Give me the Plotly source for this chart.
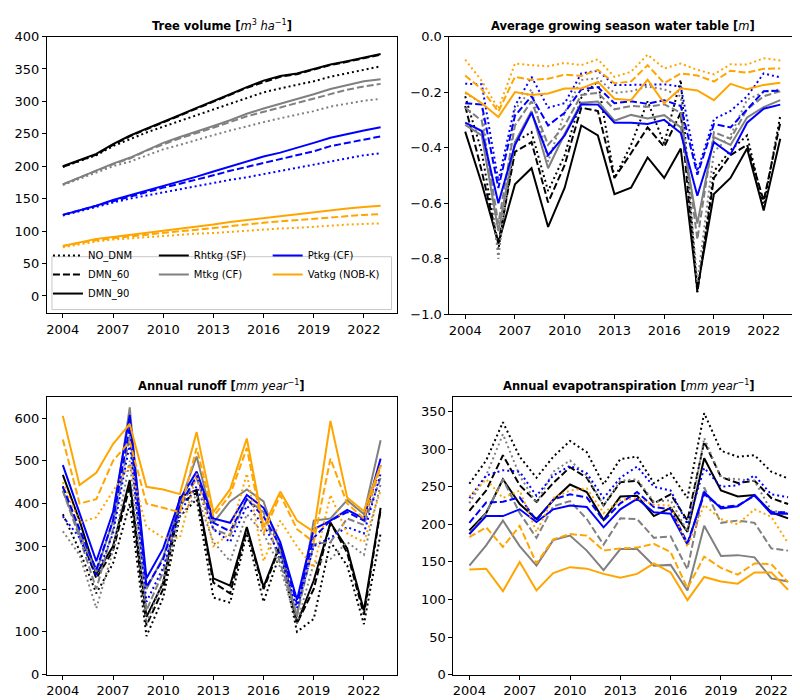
import plotly.graph_objects as go

years = list(range(2004, 2024))
sites = ["Rhtkg (SF)", "Mtkg (CF)", "Ptkg (CF)", "Vatkg (NOB-K)"]
site_colors = ["black", "gray", "blue", "orange"]
scenarios = ["NO_DNM", "DMN_60", "DMN_90"]
dashes = ["2px,3px", "7px,3px", "solid"]

# tree volume [m3 ha-1]
vol_rht_no = [199, 208, 217, 231, 242, 252, 261, 270, 279, 288, 297, 306, 314, 320, 325, 331, 338, 343, 349, 354]
vol_rht_60 = [199, 209, 218, 233, 246, 257, 267, 278, 289, 299, 310, 321, 330, 338, 342, 349, 356, 361, 366, 372]
vol_rht_90 = [200, 210, 219, 234, 247, 258, 268, 279, 290, 300, 311, 322, 332, 339, 343, 350, 357, 362, 367, 373]
vol_mtk_no = [171, 181, 190, 200, 207, 216, 226, 233, 241, 248, 255, 262, 268, 274, 279, 285, 292, 297, 301, 304]
vol_mtk_60 = [172, 183, 193, 203, 212, 224, 234, 243, 251, 259, 268, 277, 284, 291, 297, 304, 312, 318, 323, 327]
vol_mtk_90 = [172, 183, 193, 204, 213, 225, 236, 245, 253, 262, 271, 281, 289, 296, 303, 311, 319, 325, 331, 334]
vol_ptk_no = [124, 131, 137, 144, 150, 155, 160, 165, 170, 174, 179, 183, 188, 192, 197, 202, 208, 213, 217, 220]
vol_ptk_60 = [125, 132, 139, 147, 154, 161, 167, 173, 179, 186, 193, 199, 205, 210, 216, 223, 231, 236, 242, 246]
vol_ptk_90 = [125, 132, 139, 148, 155, 163, 170, 177, 184, 192, 200, 208, 215, 221, 228, 236, 244, 250, 255, 260]
vol_vat_no = [75, 80, 84, 87, 89, 91, 93, 94, 96, 97, 99, 101, 102, 104, 105, 107, 109, 110, 111, 112]
vol_vat_60 = [77, 82, 86, 89, 92, 95, 98, 100, 102, 105, 108, 110, 113, 115, 117, 120, 122, 123, 125, 126]
vol_vat_90 = [77, 83, 88, 91, 94, 98, 101, 104, 107, 110, 114, 117, 121, 123, 126, 130, 133, 135, 137, 139]

# average growing season water table [m]
wt_rht_no = [-0.215, -0.415, -0.767, -0.38, -0.344, -0.556, -0.427, -0.22, -0.16, -0.509, -0.39, -0.233, -0.385, -0.156, -0.92, -0.485, -0.409, -0.356, -0.614, -0.285]
wt_rht_60 = [-0.25, -0.485, -0.744, -0.415, -0.38, -0.597, -0.462, -0.256, -0.268, -0.509, -0.42, -0.327, -0.397, -0.274, -0.92, -0.509, -0.427, -0.39, -0.591, -0.31]
wt_rht_90 = [-0.342, -0.53, -0.744, -0.532, -0.474, -0.685, -0.544, -0.32, -0.356, -0.567, -0.544, -0.435, -0.509, -0.403, -0.908, -0.567, -0.509, -0.403, -0.626, -0.368]
wt_mtk_no = [-0.203, -0.24, -0.80, -0.262, -0.19, -0.45, -0.274, -0.156, -0.15, -0.203, -0.197, -0.18, -0.19, -0.215, -0.885, -0.415, -0.356, -0.227, -0.2, -0.19]
wt_mtk_60 = [-0.256, -0.303, -0.673, -0.32, -0.233, -0.39, -0.32, -0.21, -0.203, -0.262, -0.25, -0.253, -0.244, -0.274, -0.73, -0.344, -0.368, -0.262, -0.215, -0.197]
wt_mtk_90 = [-0.318, -0.356, -0.70, -0.38, -0.268, -0.474, -0.35, -0.238, -0.234, -0.303, -0.282, -0.295, -0.283, -0.327, -0.673, -0.362, -0.39, -0.291, -0.254, -0.229]
wt_ptk_no = [-0.17, -0.172, -0.52, -0.25, -0.145, -0.256, -0.24, -0.133, -0.123, -0.174, -0.174, -0.172, -0.172, -0.18, -0.485, -0.297, -0.268, -0.215, -0.133, -0.147]
wt_ptk_60 = [-0.24, -0.245, -0.545, -0.285, -0.215, -0.32, -0.274, -0.19, -0.182, -0.24, -0.233, -0.242, -0.229, -0.25, -0.497, -0.315, -0.327, -0.262, -0.197, -0.195]
wt_ptk_90 = [-0.31, -0.34, -0.60, -0.39, -0.274, -0.427, -0.356, -0.244, -0.245, -0.31, -0.31, -0.315, -0.30, -0.347, -0.573, -0.38, -0.424, -0.31, -0.26, -0.245]
wt_vat_no = [-0.083, -0.16, -0.26, -0.097, -0.103, -0.107, -0.095, -0.103, -0.082, -0.145, -0.127, -0.065, -0.115, -0.097, -0.12, -0.136, -0.1, -0.101, -0.078, -0.086]
wt_vat_60 = [-0.14, -0.19, -0.27, -0.145, -0.156, -0.152, -0.137, -0.142, -0.12, -0.168, -0.162, -0.103, -0.168, -0.133, -0.14, -0.162, -0.123, -0.13, -0.116, -0.115]
wt_vat_90 = [-0.20, -0.24, -0.29, -0.20, -0.21, -0.205, -0.187, -0.187, -0.163, -0.224, -0.229, -0.155, -0.24, -0.186, -0.194, -0.229, -0.17, -0.19, -0.174, -0.166]

# annual runoff [mm year-1]
ro_rht_no = [375, 290, 190, 260, 400, 90, 180, 370, 410, 180, 168, 330, 170, 285, 100, 130, 310, 255, 118, 330]
ro_rht_60 = [440, 330, 225, 290, 440, 115, 200, 400, 425, 215, 190, 340, 200, 300, 120, 200, 355, 285, 140, 385]
ro_rht_90 = [467, 360, 235, 300, 455, 135, 215, 415, 432, 225, 208, 345, 205, 305, 120, 220, 355, 295, 150, 390]
ro_mtk_no = [335, 280, 155, 290, 500, 120, 220, 370, 420, 310, 265, 375, 330, 250, 120, 260, 270, 310, 280, 445]
ro_mtk_60 = [430, 320, 200, 340, 560, 150, 240, 390, 460, 340, 325, 410, 380, 260, 140, 305, 310, 365, 350, 460]
ro_mtk_90 = [430, 330, 240, 360, 625, 200, 275, 400, 510, 355, 405, 433, 405, 290, 135, 360, 365, 408, 375, 548]
ro_ptk_no = [370, 320, 230, 330, 540, 170, 250, 380, 440, 340, 310, 395, 350, 280, 155, 300, 320, 345, 330, 470]
ro_ptk_60 = [440, 340, 245, 360, 580, 205, 270, 395, 465, 355, 335, 410, 370, 300, 165, 320, 360, 380, 360, 490]
ro_ptk_90 = [490, 375, 265, 380, 607, 225, 295, 410, 475, 365, 355, 420, 390, 310, 175, 340, 360, 385, 365, 505]
ro_vat_no = [450, 355, 368, 430, 490, 345, 320, 320, 470, 300, 330, 470, 265, 360, 300, 250, 420, 330, 310, 430]
ro_vat_60 = [550, 400, 410, 500, 545, 400, 390, 380, 530, 370, 420, 530, 330, 420, 340, 310, 505, 400, 365, 485]
ro_vat_90 = [605, 443, 472, 539, 586, 439, 433, 422, 567, 380, 433, 552, 345, 428, 360, 334, 593, 414, 382, 490]

# annual evapotranspiration [mm year-1]
et_rht_no = [254, 285, 336, 290, 262, 290, 311, 296, 253, 287, 290, 255, 268, 235, 348, 298, 290, 292, 270, 261]
et_rht_60 = [218, 245, 292, 252, 230, 255, 276, 262, 225, 256, 258, 228, 240, 205, 310, 263, 255, 258, 235, 227]
et_rht_90 = [192, 215, 260, 227, 207, 232, 253, 243, 206, 237, 238, 211, 222, 190, 288, 245, 237, 239, 216, 208]
et_mtk_no = [228, 265, 320, 265, 228, 270, 285, 265, 225, 258, 260, 230, 232, 190, 315, 262, 260, 258, 218, 215]
et_mtk_60 = [187, 215, 260, 215, 182, 224, 231, 207, 173, 208, 207, 182, 184, 140, 249, 202, 205, 202, 168, 165]
et_mtk_90 = [145, 172, 205, 171, 145, 179, 185, 165, 139, 167, 167, 145, 146, 112, 198, 158, 159, 156, 128, 124]
et_ptk_no = [235, 265, 272, 270, 238, 265, 278, 268, 235, 262, 277, 250, 245, 200, 275, 250, 252, 265, 240, 236]
et_ptk_60 = [202, 229, 230, 236, 205, 233, 240, 236, 205, 228, 243, 223, 220, 175, 240, 223, 225, 238, 216, 216]
et_ptk_90 = [187, 211, 211, 220, 203, 220, 225, 223, 196, 220, 234, 216, 214, 173, 243, 221, 224, 239, 214, 214]
et_vat_no = [237, 260, 235, 245, 190, 235, 245, 248, 215, 232, 235, 226, 225, 170, 226, 207, 200, 220, 210, 175]
et_vat_60 = [183, 196, 170, 198, 148, 180, 187, 185, 165, 168, 169, 174, 163, 115, 157, 142, 133, 148, 147, 123]
et_vat_90 = [140, 141, 111, 150, 112, 135, 143, 141, 134, 129, 134, 148, 136, 99, 130, 124, 121, 136, 136, 113]

panels = [
    {
        "title": "<b>Tree volume [</b><i>m</i><sup>3</sup> <i>ha</i><sup>−1</sup><b>]</b>",
        "series": [[vol_rht_no, vol_rht_60, vol_rht_90], [vol_mtk_no, vol_mtk_60, vol_mtk_90],
                   [vol_ptk_no, vol_ptk_60, vol_ptk_90], [vol_vat_no, vol_vat_60, vol_vat_90]],
        "box": (38, 388, 22, 305), "yrange": [-27, 400], "dtick": 50, "fmt": "d",
    },
    {
        "title": "<b>Average growing season water table [</b><i>m</i><b>]</b>",
        "series": [[wt_rht_no, wt_rht_60, wt_rht_90], [wt_mtk_no, wt_mtk_60, wt_mtk_90],
                   [wt_ptk_no, wt_ptk_60, wt_ptk_90], [wt_vat_no, wt_vat_60, wt_vat_90]],
        "box": (441, 788, 22, 306), "yrange": [-1.0, 0.0], "dtick": 0.2, "fmt": ".1f",
    },
    {
        "title": "<b>Annual runoff [</b><i>mm year</i><sup>−1</sup><b>]</b>",
        "series": [[ro_rht_no, ro_rht_60, ro_rht_90], [ro_mtk_no, ro_mtk_60, ro_mtk_90],
                   [ro_ptk_no, ro_ptk_60, ro_ptk_90], [ro_vat_no, ro_vat_60, ro_vat_90]],
        "box": (38, 388, 390, 674), "yrange": [0, 650], "dtick": 100, "fmt": "d",
    },
    {
        "title": "<b>Annual evapotranspiration [</b><i>mm year</i><sup>−1</sup><b>]</b>",
        "series": [[et_rht_no, et_rht_60, et_rht_90], [et_mtk_no, et_mtk_60, et_mtk_90],
                   [et_ptk_no, et_ptk_60, et_ptk_90], [et_vat_no, et_vat_60, et_vat_90]],
        "box": (445, 796, 390, 674), "yrange": [0, 370], "dtick": 50, "fmt": "d",
    },
]

W, H = 800, 700
FONT = "DejaVu Sans"

fig = go.Figure()
layout = dict(
    width=W, height=H,
    margin=dict(l=0, r=0, t=0, b=0),
    paper_bgcolor="white", plot_bgcolor="white",
    font=dict(family=FONT, size=13, color="black"),
    annotations=[], shapes=[],
)

for i, p in enumerate(panels):
    n = "" if i == 0 else str(i + 1)
    x0, x1, y0, y1 = p["box"]
    for s, site_series in enumerate(p["series"]):
        for k, vals in enumerate(site_series):
            fig.add_trace(go.Scatter(
                x=years, y=vals, mode="lines",
                line=dict(color=site_colors[s], width=2, dash=dashes[k]),
                xaxis="x" + n, yaxis="y" + n, showlegend=False, hoverinfo="skip",
            ))
    common = dict(showline=True, linecolor="black", linewidth=1, mirror=True,
                  ticks="outside", ticklen=4, tickwidth=1, tickcolor="black",
                  showgrid=False, zeroline=False,
                  tickfont=dict(family=FONT, size=13, color="black"))
    layout["xaxis" + n] = dict(common, domain=[x0 / W, x1 / W], anchor="y" + n,
                               range=[2003.05, 2023.95], tickvals=years[::3])
    layout["yaxis" + n] = dict(common, domain=[1 - y1 / H, 1 - y0 / H], anchor="x" + n,
                               range=p["yrange"], dtick=p["dtick"], tick0=0,
                               tickformat=p["fmt"])
    layout["annotations"].append(dict(
        text=p["title"], x=(x0 + x1) / 2 / W, y=1 - (y0 - 11) / H,
        xref="paper", yref="paper", showarrow=False, xanchor="center", yanchor="middle",
        font=dict(family=FONT, size=11.5, color="black"),
    ))

# legend: line styles in col 1, sites in col 2 and 3
for k, sc in enumerate(scenarios):
    fig.add_trace(go.Scatter(x=[None], y=[None], mode="lines", name=sc,
                             line=dict(color="black", width=2, dash=dashes[k]), legend="legend"))
for s in range(2):
    fig.add_trace(go.Scatter(x=[None], y=[None], mode="lines", name=sites[s],
                             line=dict(color=site_colors[s], width=2), legend="legend2"))
for s in range(2, 4):
    fig.add_trace(go.Scatter(x=[None], y=[None], mode="lines", name=sites[s],
                             line=dict(color=site_colors[s], width=2), legend="legend3"))

leg = dict(yanchor="top", xanchor="left", bgcolor="rgba(0,0,0,0)", borderwidth=0,
           font=dict(family=FONT, size=10, color="black"), tracegroupgap=0,
           itemwidth=30, y=1 - 231 / H)
layout["legend"] = dict(leg, x=39 / W)
layout["legend2"] = dict(leg, x=145 / W)
layout["legend3"] = dict(leg, x=259 / W)

layout["shapes"].append(dict(
    type="rect", xref="paper", yref="paper", x0=43 / W, x1=383 / W,
    y0=1 - 301 / H, y1=1 - 247 / H, line=dict(color="#c8c8c8", width=1),
    fillcolor="rgba(255,255,255,0.8)", layer="above",
))

fig.update_layout(**layout)
fig.write_html("out.html")
